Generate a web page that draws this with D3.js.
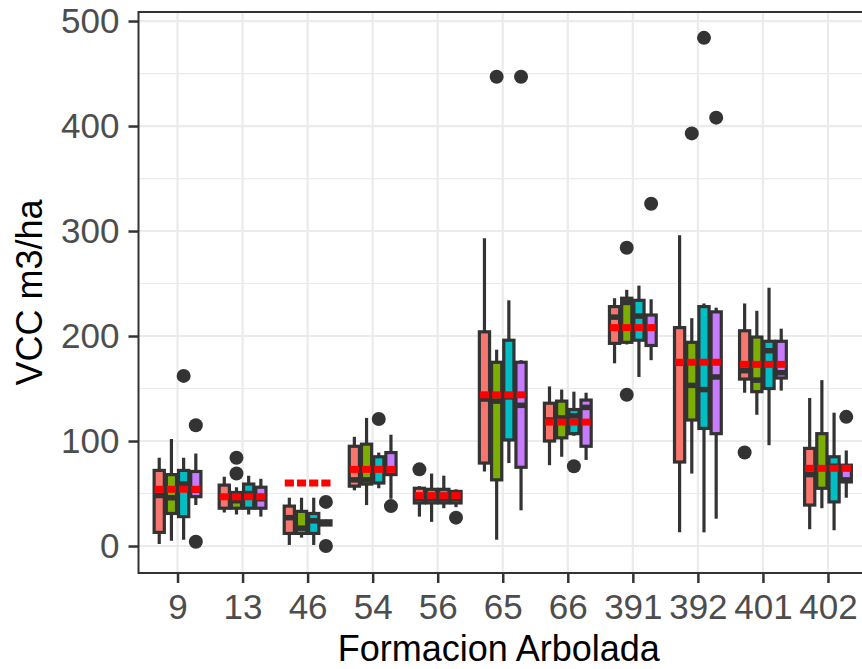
<!DOCTYPE html>
<html>
<head>
<meta charset="utf-8">
<script src="https://cdn.jsdelivr.net/npm/d3@7"></script>
<style>
	body { margin: 0; background: #fff; }
	text { font-family: "Liberation Sans", Arial, sans-serif; }
</style>
</head>
<body>
<script>
"use strict";
// categories on the x axis
const categories = ["9", "13", "46", "54", "56", "65", "66", "391", "392", "401", "402"];
const groups = ["g1", "g2", "g3", "g4"];
const colors = ["#F8766D", "#7CAE00", "#00BFC4", "#C77CFF"];
const yTicks = [0, 100, 200, 300, 400, 500];
// [lower whisker, q1, median, q3, upper whisker] per category
const statsG1 = [[2, 13, 48, 72, 84], [32, 36, 47, 58, 66], [1, 12, 27, 38, 46], [53, 57, 63, 95, 104], [28, 41, 45, 55, 57], [71, 79, 140, 204, 293], [77, 100, 120, 136, 152], [174, 193, 218, 228, 236], [13, 80, 174, 208, 296], [146, 159, 167, 205, 231], [16, 39, 68, 93, 141]];
const statsG2 = [[5, 31, 46, 68, 102], [30, 36, 43, 51, 56], [8, 12, 17, 33, 46], [39, 59, 63, 97, 122], [23, 41, 45, 54, 69], [6, 63, 138, 175, 187], [85, 103, 122, 138, 149], [192, 194, 232, 236, 244], [69, 120, 153, 194, 217], [125, 147, 158, 199, 224], [36, 55, 74, 107, 158]];
const statsG3 = [[6, 28, 59, 72, 84], [30, 36, 50, 59, 67], [1, 12, 24, 31, 46], [55, 60, 73, 85, 89], [36, 41, 45, 54, 67], [79, 101, 142, 196, 234], [105, 107, 124, 130, 147], [161, 196, 219, 234, 248], [13, 112, 149, 228, 231], [96, 150, 186, 195, 246], [15, 42, 76, 85, 127]];
const statsG4 = [[39, 47, 53, 71, 88], [28, 36, 45, 56, 64], [19, 20, 22, 24, 25], [45, 68, 73, 89, 106], [37, 41, 45, 52, 54], [34, 75, 134, 175, 177], [82, 95, 132, 139, 146], [177, 191, 208, 220, 235], [26, 107, 161, 223, 227], [148, 160, 165, 195, 207], [46, 61, 63, 77, 91]];
// [category, group index, value]
const outliers = [["9", 2, 162], ["9", 3, 115], ["9", 3, 4], ["13", 1, 84], ["13", 1, 69], ["46", 3, 42], ["46", 3, 0], ["54", 2, 121], ["54", 3, 38], ["56", 0, 73], ["56", 3, 27], ["65", 1, 447], ["65", 3, 447], ["66", 2, 76], ["391", 1, 284], ["391", 1, 144], ["391", 3, 326], ["392", 1, 393], ["392", 2, 484], ["392", 3, 408], ["401", 0, 89], ["402", 3, 123]];
const means = [54, 47, 60, 73, 48, 144, 118, 208, 175, 173, 74];

const allStats = [statsG1, statsG2, statsG3, statsG4];
const size = {"width": 862, "height": 669};
const panel = {"left": 138.5, "right": 867, "top": 12, "bottom": 573};
const dark = "#333333";

const svg = d3.select("body").append("svg").attr("width", size.width).attr("height", size.height);
svg.append("rect").attr("width", size.width).attr("height", size.height).attr("fill", "#fff");

const x = d3.scalePoint().domain(categories).range([panel.left, panel.right]).padding(0.6);
const dodge = d3.scaleBand().domain(d3.range(4)).range([-x.step() * 0.375, x.step() * 0.375]);
const bw = dodge.bandwidth();
const y = d3.scaleLinear().domain([-25.7, 508.6]).range([panel.bottom, panel.top]);

svg.append("clipPath").attr("id", "clip").append("rect")
	.attr("x", panel.left).attr("y", panel.top)
	.attr("width", panel.right - panel.left).attr("height", panel.bottom - panel.top);
const plot = svg.append("g").attr("clip-path", "url(#clip)");

// grid
const minor = d3.range(50, 500, 100);
plot.selectAll(".minor").data(minor).enter().append("line")
	.attr("x1", panel.left).attr("x2", panel.right)
	.attr("y1", d => y(d)).attr("y2", d => y(d))
	.attr("stroke", "#EBEBEB").attr("stroke-width", 1.2);
plot.selectAll(".major-y").data(yTicks).enter().append("line")
	.attr("x1", panel.left).attr("x2", panel.right)
	.attr("y1", d => y(d)).attr("y2", d => y(d))
	.attr("stroke", "#EBEBEB").attr("stroke-width", 2.2);
plot.selectAll(".major-x").data(categories).enter().append("line")
	.attr("x1", d => x(d)).attr("x2", d => x(d))
	.attr("y1", panel.top).attr("y2", panel.bottom)
	.attr("stroke", "#EBEBEB").attr("stroke-width", 2.2);

// boxes
allStats.forEach((stats, g) => {
	const grp = plot.append("g");
	const rows = stats.map((s, i) => ({cat: categories[i], s: s}));
	const cx = d => x(d.cat) + dodge(g) + bw / 2;
	grp.selectAll(".whisker").data(rows).enter().append("line")
		.attr("x1", cx).attr("x2", cx)
		.attr("y1", d => y(d.s[0])).attr("y2", d => y(d.s[4]))
		.attr("stroke", dark).attr("stroke-width", 3.2);
	grp.selectAll(".box").data(rows).enter().append("rect")
		.attr("x", d => x(d.cat) + dodge(g) + 1)
		.attr("width", bw - 2)
		.attr("y", d => y(d.s[3]))
		.attr("height", d => y(d.s[1]) - y(d.s[3]))
		.attr("fill", colors[g])
		.attr("stroke", dark).attr("stroke-width", 3.2);
	grp.selectAll(".median").data(rows).enter().append("line")
		.attr("x1", d => x(d.cat) + dodge(g) + 1)
		.attr("x2", d => x(d.cat) + dodge(g) + bw - 1)
		.attr("y1", d => y(d.s[2])).attr("y2", d => y(d.s[2]))
		.attr("stroke", dark).attr("stroke-width", 5.5);
});

plot.selectAll(".outlier").data(outliers).enter().append("circle")
	.attr("cx", d => x(d[0]) + dodge(d[1]) + bw / 2)
	.attr("cy", d => y(d[2]))
	.attr("r", 7)
	.attr("fill", dark);

// red mean segments
const meanRows = [];
categories.forEach((c, i) => d3.range(4).forEach(g => meanRows.push({cat: c, g: g, v: means[i]})));
plot.selectAll(".mean").data(meanRows).enter().append("line")
	.attr("x1", d => x(d.cat) + dodge(d.g) + 1.5)
	.attr("x2", d => x(d.cat) + dodge(d.g) + bw - 1.5)
	.attr("y1", d => y(d.v)).attr("y2", d => y(d.v))
	.attr("stroke", "#FF0000").attr("stroke-width", 7);

// panel border
svg.append("rect")
	.attr("x", panel.left).attr("y", panel.top)
	.attr("width", panel.right - panel.left).attr("height", panel.bottom - panel.top)
	.attr("fill", "none").attr("stroke", dark).attr("stroke-width", 2);

// axes
const yAxis = d3.axisLeft(y).tickValues(yTicks).tickSize(10).tickPadding(9);
const ga = svg.append("g").attr("transform", "translate(" + panel.left + ",0)").call(yAxis);
const xAxis = d3.axisBottom(x).tickSize(10).tickPadding(11);
const gb = svg.append("g").attr("transform", "translate(0," + panel.bottom + ")").call(xAxis);
[ga, gb].forEach(a => {
	a.select(".domain").remove();
	a.selectAll(".tick line").attr("stroke", dark).attr("stroke-width", 2.5);
	a.selectAll(".tick text").attr("fill", "#4D4D4D").style("font-size", "35px")
		.style("font-family", "'Liberation Sans', Arial, sans-serif");
});

svg.append("text")
	.attr("x", (panel.left + panel.right) / 2 - 4).attr("y", 661)
	.attr("text-anchor", "middle").attr("fill", "#000")
	.style("font-size", "36px")
	.text("Formacion Arbolada");
svg.append("text")
	.attr("transform", "translate(42," + ((panel.top + panel.bottom) / 2) + ") rotate(-90)")
	.attr("text-anchor", "middle").attr("fill", "#000")
	.style("font-size", "36px")
	.text("VCC m3/ha");
</script>
</body>
</html>
